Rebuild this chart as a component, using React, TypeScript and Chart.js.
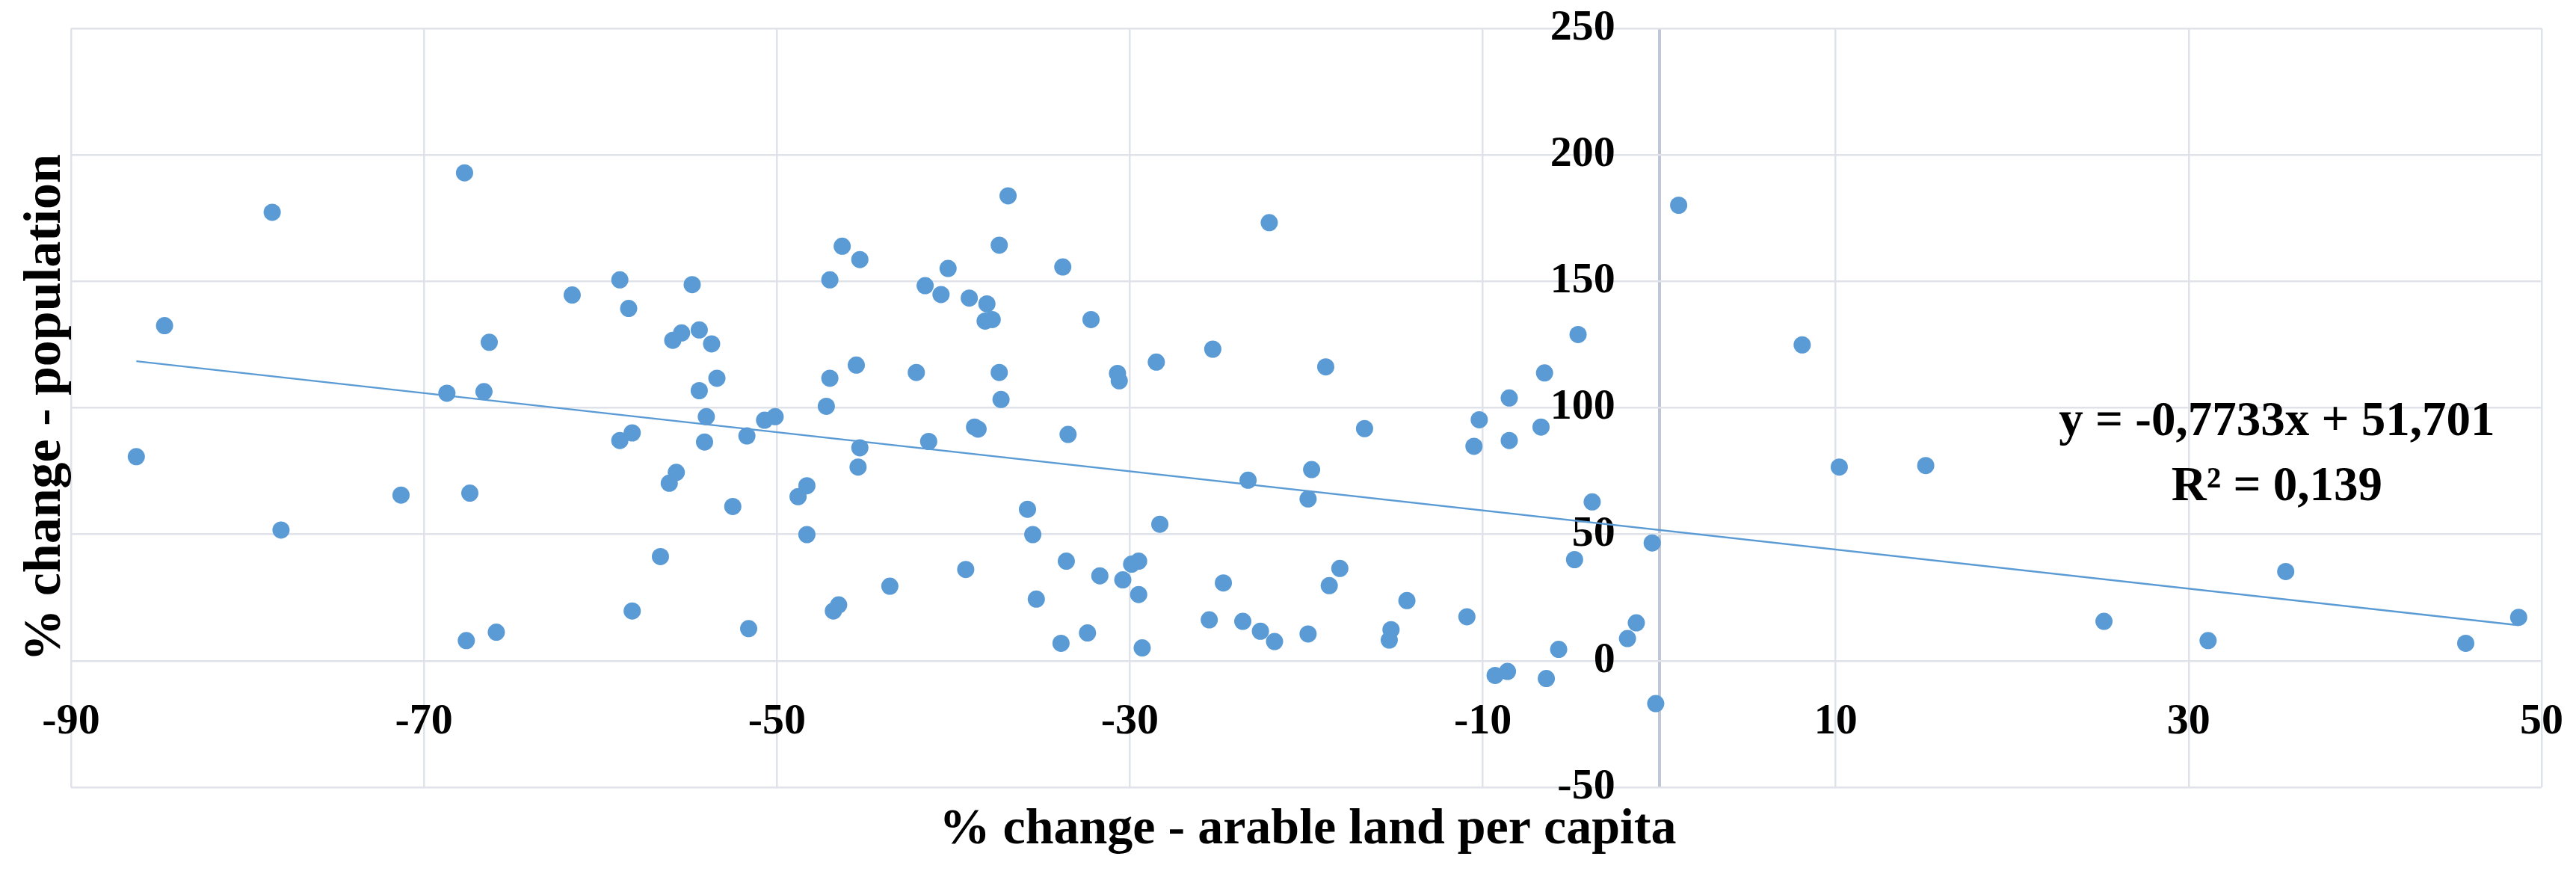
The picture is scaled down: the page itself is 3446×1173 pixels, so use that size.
import React, { useEffect, useRef } from "react";
import { Chart, registerables } from "chart.js";

Chart.register(...registerables);

// % change - arable land per capita (x) and % change - population (y)
const xValues: number[] = [
  -86.3, -84.7, -78.6, -78.1, -71.3, -68.7, -67.7, -67.4, -67.6, -66.6, -66.3,
  -65.9, -61.6, -58.9, -58.4, -58.9, -58.2, -58.2, -56.6, -56.1, -55.7, -55.9,
  -55.4, -54.8, -54.4, -53.7, -53.4, -54.4, -54.0, -54.1, -52.5, -51.7, -51.6,
  -50.7, -50.1, -46.3, -45.3, -47.0, -45.5, -47.0, -47.2, -45.3, -45.4, -48.8,
  -48.3, -48.3, -43.6, -46.8, -46.5,
  -36.9, -37.4, -40.3, -33.8, -41.6, -40.7, -39.1, -38.1, -38.2, -37.8, -32.2,
  -42.1, -37.4, -37.3, -30.7, -30.6, -28.5, -25.3, -22.1, -41.4, -38.8, -38.6,
  -33.5, -23.3, -35.8, -35.5, -28.3, -39.3, -33.6, -35.3, -31.7, -30.4, -29.9,
  -29.5, -29.5, -33.9, -32.4, -29.3, -24.7, -25.5, -23.6, -22.6, -21.8,
  -19.9, -19.7, -18.9, -16.7, -19.9, -18.7, -18.1, -14.3, -15.2, -15.3, -10.9,
  -10.5, -10.2, -8.5, -8.5, -6.7, -6.5, -4.6, -3.8, -4.8, -0.4, -9.3, -8.6,
  -6.4, -5.7, -1.8, -1.3, -0.2, 1.1,
  8.1, 10.2, 15.1, 25.2, 31.1, 35.5, 45.7, 48.7,
];
const yValues: number[] = [
  80.7, 132.5, 177.3, 51.7, 65.5, 105.8, 192.9, 66.3, 8.0, 106.4, 125.9,
  11.3, 144.6, 150.6, 139.3, 87.1, 90.1, 19.7, 41.2, 70.2, 74.5, 126.7,
  129.6, 148.7, 130.8, 125.3, 111.7, 106.8, 96.5, 86.5, 61.0, 88.9, 12.7,
  95.1, 96.5, 163.9, 158.6, 150.6, 116.9, 111.7, 100.6, 84.2, 76.6, 64.9,
  69.2, 49.9, 29.5, 19.7, 22.1,
  183.8, 164.3, 155.1, 155.7, 148.3, 144.8, 143.4, 141.1, 134.3, 134.9, 134.9,
  114.0, 114.0, 103.3, 113.6, 110.7, 118.1, 123.2, 173.2, 86.7, 92.4, 91.6,
  89.5, 71.4, 59.9, 49.9, 54.0, 36.1, 39.4, 24.4, 33.6, 32.0, 38.2,
  39.4, 26.2, 6.9, 11.0, 5.1, 30.8, 16.2, 15.6, 11.7, 7.6,
  64.0, 75.6, 116.2, 91.8, 10.6, 29.7, 36.5, 23.8, 12.3, 8.2, 17.4,
  84.8, 95.3, 103.9, 87.1, 92.4, 113.8, 129.0, 62.8, 40.0, 46.6, -5.8, -4.2,
  -7.0, 4.5, 8.8, 15.0, -16.9, 180.1,
  124.9, 76.6, 77.2, 15.6, 8.0, 35.3, 6.9, 17.2,
];

const xTickValues: number[] = [-90, -70, -50, -30, -10, 0, 10, 30, 50];
const yTickValues: number[] = [-50, 0, 50, 100, 150, 200, 250];
const trendSlope = -0.7733;
const trendIntercept = 51.701;
const trendLabels: string[] = ["y = -0,7733x + 51,701", "R² = 0,139"];
const xAxisTitle = "% change - arable land per capita";
const yAxisTitle = "% change - population";

const FONT = '"Liberation Serif", "Times New Roman", serif';
const POINT_COLOR = "#5B9BD5";
const GRID_COLOR = "#DFE3E9";
const AXIS_COLOR = "#BFC7D4";

export default function App() {
  const ref = useRef<HTMLCanvasElement>(null);

  useEffect(() => {
    document.body.style.margin = "0";
    const canvas = ref.current;
    if (!canvas) return;

    const xMin = Math.min(...xValues);
    const xMax = Math.max(...xValues);
    const trend = [xMin, xMax].map((x) => ({ x, y: trendSlope * x + trendIntercept }));
    const points = xValues.map((x, i) => ({ x, y: yValues[i] }));

    const annotations = {
      id: "annotations",
      afterDraw(chart: any) {
        const { ctx, chartArea, scales } = chart;
        ctx.save();
        ctx.fillStyle = "#000000";
        ctx.textAlign = "center";
        ctx.textBaseline = "alphabetic";
        ctx.font = `bold 68px ${FONT}`;
        ctx.fillText(xAxisTitle, (chartArea.left + chartArea.right) / 2 + 2, chartArea.bottom + 75);
        ctx.save();
        ctx.font = `bold 70px ${FONT}`;
        ctx.translate(chartArea.left - 15, (chartArea.top + chartArea.bottom) / 2);
        ctx.rotate(-Math.PI / 2);
        ctx.fillText(yAxisTitle, 0, 0);
        ctx.restore();
        ctx.font = `bold 65px ${FONT}`;
        const ex = scales.x.getPixelForValue(35);
        ctx.fillText(trendLabels[0], ex, scales.y.getPixelForValue(89.2));
        ctx.fillText(trendLabels[1], ex, scales.y.getPixelForValue(63.5));
        ctx.restore();
      },
    };

    const chart = new Chart(canvas, {
      type: "scatter",
      data: {
        datasets: [
          {
            type: "line",
            label: "trend",
            data: trend,
            showLine: true,
            borderColor: POINT_COLOR,
            borderWidth: 2.5,
            pointRadius: 0,
            fill: false,
            order: 0,
          } as any,
          {
            type: "scatter",
            label: "data",
            data: points,
            backgroundColor: POINT_COLOR,
            borderWidth: 0,
            pointRadius: 11.5,
            order: 1,
          },
        ],
      },
      options: {
        animation: false,
        responsive: false,
        devicePixelRatio: 1,
        layout: { padding: { left: 95, right: 46, top: 38, bottom: 120 } },
        plugins: { legend: { display: false }, tooltip: { enabled: false } },
        scales: {
          x: {
            type: "linear",
            min: -90,
            max: 50,
            position: { y: -14 } as any,
            afterBuildTicks: (axis: any) => {
              axis.ticks = xTickValues.map((v) => ({ value: v }));
            },
            ticks: {
              autoSkip: false,
              maxRotation: 0,
              padding: 0,
              color: "#000000",
              font: { family: FONT, size: 58, weight: "bold" },
              callback: (v: any) => (v === 0 ? "" : String(v)),
            },
            grid: {
              color: (c: any) => (c.tick && c.tick.value === 0 ? AXIS_COLOR : GRID_COLOR),
              lineWidth: (c: any) => (c.tick && c.tick.value === 0 ? 4 : 2.5),
              drawTicks: false,
            },
            border: { display: false },
          },
          y: {
            type: "linear",
            min: -50,
            max: 250,
            position: { x: -2.5 } as any,
            afterBuildTicks: (axis: any) => {
              axis.ticks = yTickValues.map((v) => ({ value: v }));
            },
            ticks: {
              padding: 0,
              color: "#000000",
              font: { family: FONT, size: 58, weight: "bold" },
              callback: (v: any) => String(v),
            },
            grid: { color: GRID_COLOR, lineWidth: 2.5, drawTicks: false },
            border: { display: false },
          },
        },
      },
      plugins: [annotations],
    });

    return () => chart.destroy();
  }, []);

  return (
    <canvas
      ref={ref}
      width={3446}
      height={1173}
      style={{ display: "block", width: "3446px", height: "1173px" }}
    />
  );
}
